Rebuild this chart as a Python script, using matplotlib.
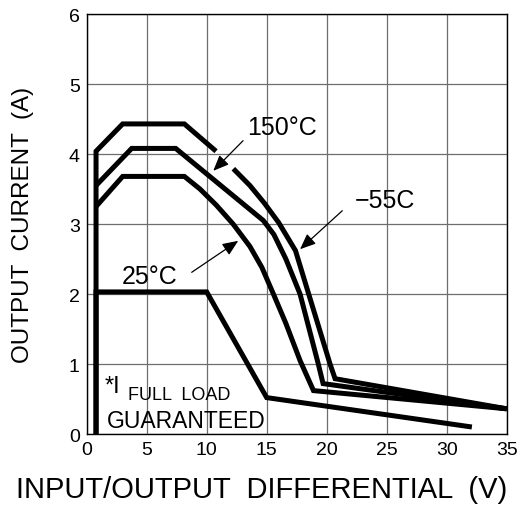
import numpy as np
import matplotlib
matplotlib.use("Agg")
import matplotlib.pyplot as plt

plt.rcParams['font.family'] = ['Liberation Sans', 'DejaVu Sans']

# curvas (V, A) - nan = interrupção da linha
x_m55 = [0.78, 0.78, 3.0, 8.14, 10.78, np.nan, 12.22, 13.6, 14.8, 16.0, 17.4, 18.5, 20.28, 20.7, 35.0]
y_m55 = [0.0, 4.04, 4.43, 4.43, 4.04, np.nan, 3.79, 3.55, 3.3, 3.02, 2.62, 2.0, 1.0, 0.79, 0.36]

x_150 = [0.78, 3.75, 7.42, 14.72, 15.6, 16.6, 17.78, 19.3, 19.7, 35.0]
y_150 = [3.55, 4.08, 4.08, 3.05, 2.85, 2.5, 2.0, 1.0, 0.72, 0.36]

x_25 = [0.78, 3.0, 8.14, 9.44, 10.8, 12.2, 13.6, 14.6, 15.56, 16.6, 17.78, 18.9, 35.0]
y_25 = [3.25, 3.68, 3.68, 3.5, 3.27, 3.0, 2.68, 2.38, 2.0, 1.58, 1.05, 0.62, 0.36]

x_full = [0.78, 0.78, 10.0, 15.0, 32.1]
y_full = [0.0, 2.03, 2.03, 0.52, 0.1]

x_ticks = [0, 5, 10, 15, 20, 25, 30, 35]
y_ticks = [0, 1, 2, 3, 4, 5, 6]

fig = plt.figure(figsize=(5.2, 5.06), dpi=100)
ax = fig.add_axes([0.1667, 0.1403, 0.8077, 0.830])

estilo = dict(color='black', lw=3.6, solid_joinstyle='miter', solid_capstyle='butt')
ax.plot(x_m55, y_m55, **estilo)
ax.plot(x_150, y_150, **estilo)
ax.plot(x_25, y_25, **estilo)
ax.plot(x_full, y_full, **estilo)

ax.set_xlim(0, 35)
ax.set_ylim(0, 6)
ax.set_xticks(x_ticks)
ax.set_yticks(y_ticks)
ax.grid(True, color='#6e6e6e', lw=0.9)
ax.set_axisbelow(True)
ax.tick_params(length=0, labelsize=14, pad=5)
for s in ax.spines.values():
    s.set_linewidth(1.0)

# títulos dos eixos posicionados na figura
fig.text(0.504, 0.032, 'INPUT/OUTPUT  DIFFERENTIAL  (V)', fontsize=21, ha='center', va='center')
fig.text(0.044, 0.555, 'OUTPUT  CURRENT  (A)', fontsize=17.5, ha='center', va='center', rotation=90)

# rótulos das curvas com setas
seta = dict(arrowstyle='-|>,head_length=0.95,head_width=0.4', color='black', lw=0.9, shrinkA=0, shrinkB=0)
ax.text(16.28, 4.39, '150°C', fontsize=18, ha='center', va='center')
ax.annotate('', xy=(10.55, 3.76), xytext=(13.03, 4.19), arrowprops=seta)
ax.text(24.86, 3.34, '−55C', fontsize=18, ha='center', va='center')
ax.annotate('', xy=(17.78, 2.64), xytext=(21.3, 3.19), arrowprops=seta)
ax.text(5.27, 2.26, '25°C', fontsize=18, ha='center', va='center')
ax.annotate('', xy=(12.63, 2.76), xytext=(8.75, 2.31), arrowprops=seta)

ax.text(1.53, 0.6, '*I', fontsize=17, ha='left', va='baseline')
ax.text(3.44, 0.5, 'FULL  LOAD', fontsize=13, ha='left', va='baseline')
ax.text(1.67, 0.1, 'GUARANTEED', fontsize=16.5, ha='left', va='baseline')

fig.savefig('out.png', dpi=100)
